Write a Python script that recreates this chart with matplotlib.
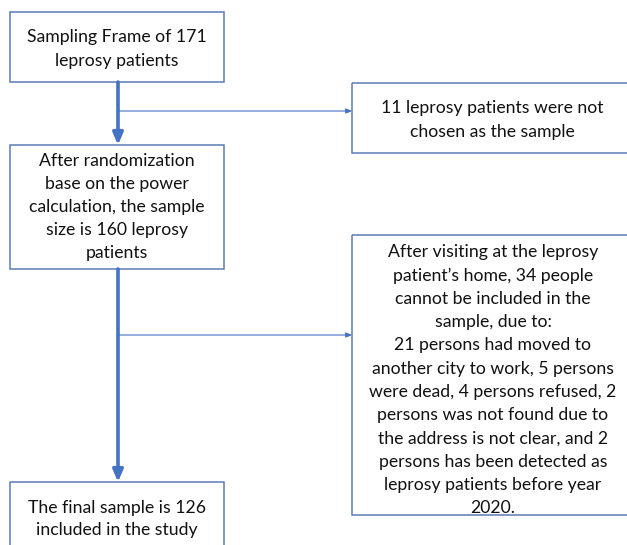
import matplotlib.pyplot as plt
from matplotlib.patches import Rectangle

# flowchart contents
main_steps = [
    "Sampling Frame of 171\nleprosy patients",
    "After randomization\nbase on the power\ncalculation, the sample\nsize is 160 leprosy\npatients",
    "The final sample is 126\nincluded in the study",
]
exclusions = [
    "11 leprosy patients were not\nchosen as the sample",
    "After visiting at the leprosy\npatient\u2019s home, 34 people\ncannot be included in the\nsample, due to:\n21 persons had moved to\nanother city to work, 5 persons\nwere dead, 4 persons refused, 2\npersons was not found due to\nthe address is not clear, and 2\npersons has been detected as\nleprosy patients before year\n2020.",
]

# layout in pixel units (x0, y0, x1, y1)
MAIN_BOXES = [(10, 12, 224, 82), (10, 145, 224, 269), (10, 482, 224, 560)]
MAIN_TEXT_Y = [49, 207, 519]
MAIN_SPACING = [1.62, 1.52, 1.5]
SIDE_BOXES = [(352, 83, 640, 153), (352, 235, 640, 515)]
SIDE_TEXT = [(492, 120), (493, 380)]
SIDE_SPACING = [1.55, 1.56]
BRANCH_Y = [111, 335]
SPINE_X = 118

BOX_EDGE = "#5a7bb5"
ARROW = "#4472c4"
FONT = ["Lato", "DejaVu Sans"]
TEXT_SIZE = 12.7

fig = plt.figure(figsize=(6.27, 5.45), dpi=100)
ax = fig.add_axes([0, 0, 1, 1])
ax.set_xlim(0, 627)
ax.set_ylim(545, 0)
ax.axis("off")


def draw_box(box):
    x0, y0, x1, y1 = box
    ax.add_patch(Rectangle((x0, y0), x1 - x0, y1 - y0, fill=False,
                           edgecolor=BOX_EDGE, linewidth=1.1, clip_on=False))


for box, label, ty, ls in zip(MAIN_BOXES, main_steps, MAIN_TEXT_Y, MAIN_SPACING):
    draw_box(box)
    ax.text(SPINE_X - 1, ty, label, ha="center", va="center", fontsize=TEXT_SIZE,
            family=FONT, linespacing=ls, color="#111111")

for box, label, (tx, ty), ls in zip(SIDE_BOXES, exclusions, SIDE_TEXT, SIDE_SPACING):
    draw_box(box)
    ax.text(tx, ty, label, ha="center", va="center", fontsize=TEXT_SIZE,
            family=FONT, linespacing=ls, color="#111111")

# thick vertical arrows between main steps
for upper, lower in zip(MAIN_BOXES[:-1], MAIN_BOXES[1:]):
    ax.annotate("", xy=(SPINE_X, lower[1]), xytext=(SPINE_X, upper[3]),
                arrowprops=dict(arrowstyle="-|>,head_length=0.7,head_width=0.3",
                                color=ARROW, lw=2.6, shrinkA=0, shrinkB=0))

# thin side branches
for by, side in zip(BRANCH_Y, SIDE_BOXES):
    ax.annotate("", xy=(side[0], by), xytext=(SPINE_X, by),
                arrowprops=dict(arrowstyle="-|>,head_length=0.35,head_width=0.15",
                                color=ARROW, lw=0.8, shrinkA=0, shrinkB=0))

fig.savefig("out.png", dpi=100)
